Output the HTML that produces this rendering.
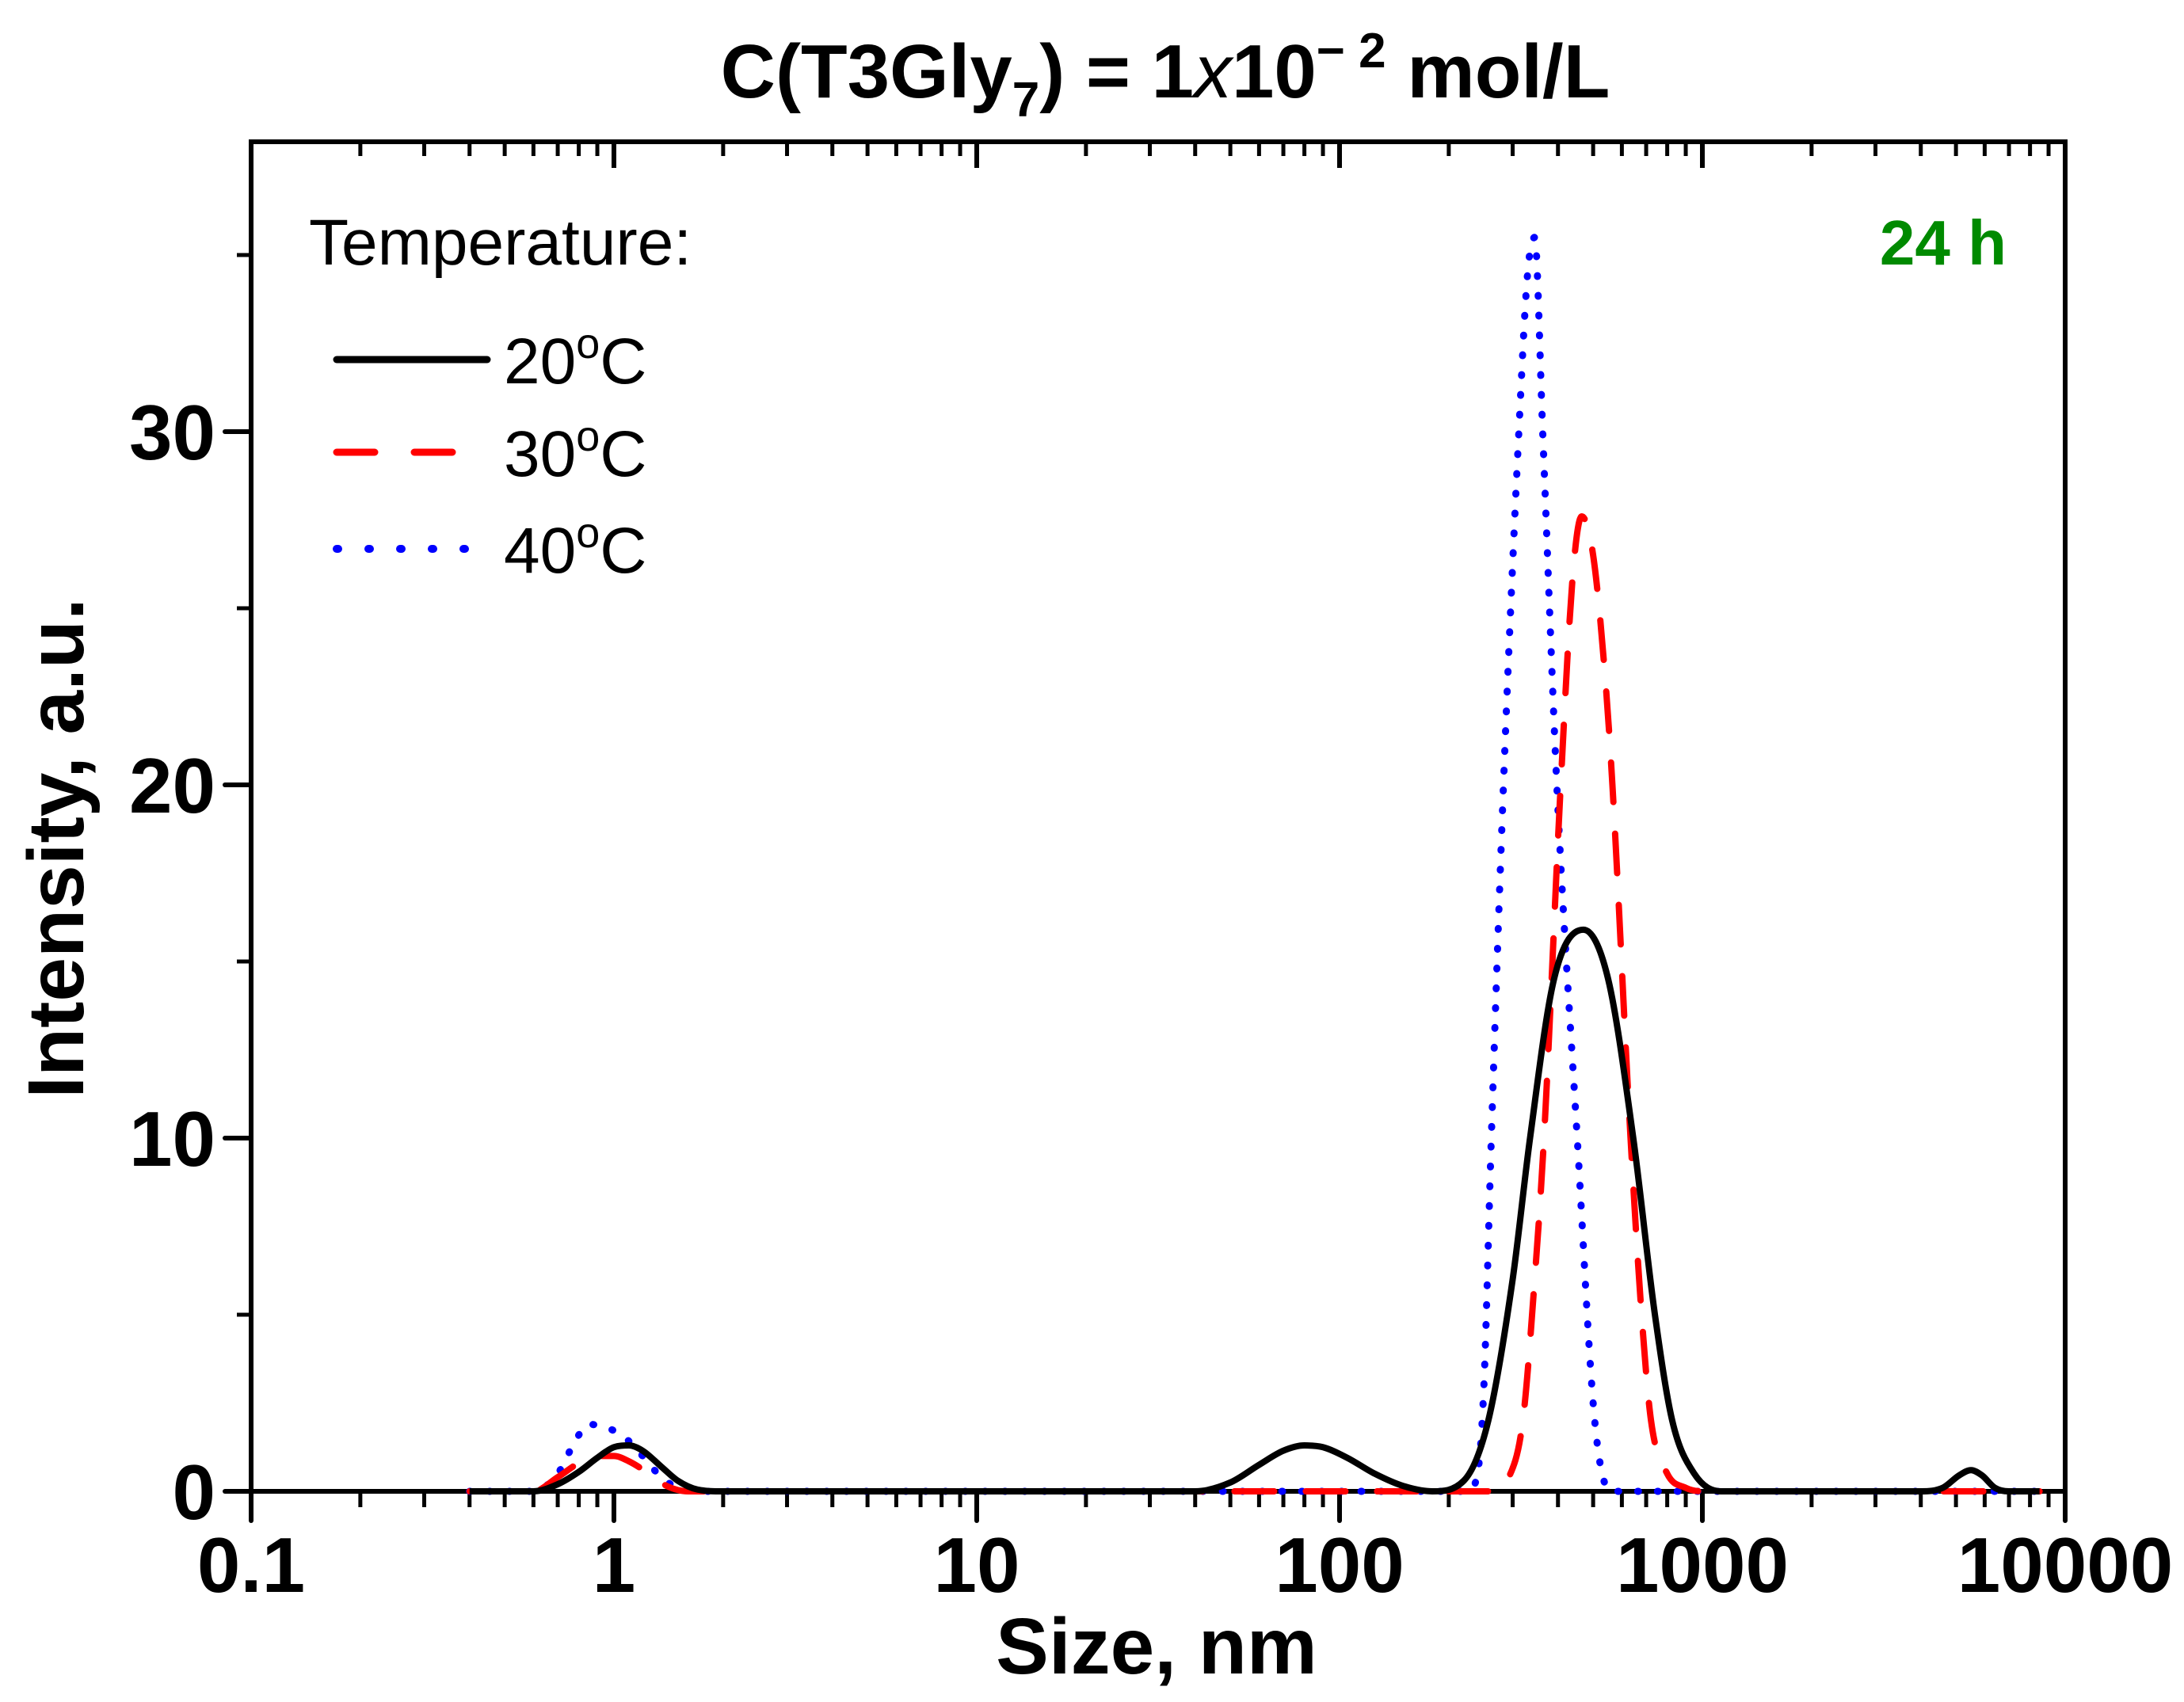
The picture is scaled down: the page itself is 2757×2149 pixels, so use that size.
<!DOCTYPE html>
<html><head><meta charset="utf-8"><style>
html,body{margin:0;padding:0;background:#fff;}
svg{display:block;font-family:"Liberation Sans",Arial,sans-serif;}
</style></head><body>
<svg id="chart" width="2757" height="2149" viewBox="0 0 2757 2149"></svg>
<script>
const xTicks=[0.1,1,10,100,1000,10000];
const xTickLabels=["0.1","1","10","100","1000","10000"];
const yTicks=[0,10,20,30];
const yTickLabels=["0","10","20","30"];
const seriesNames=["20°C","30°C","40°C"];
const s20x=[0.4,0.6,0.7,0.8,0.9,1.0,1.1,1.2,1.35,1.5,1.7,2,40,50,60,70,80,90,105,125,150,180,220,257,300,335,390,470,550,645,740,826,950,1125,4000,4600,5100,5500,5900,6400,7000,8500];
const s20y=[0,0,0.2,0.55,0.95,1.25,1.3,1.15,0.7,0.3,0.05,0,0,0.25,0.75,1.15,1.3,1.25,0.95,0.5,0.15,0,0.3,2,6,10,14.5,15.9,14.5,10,5,2,0.5,0,0,0.1,0.45,0.6,0.45,0.1,0,0];
const s30x=[0.4,0.6,0.7,0.8,0.9,1.0,1.1,1.25,1.4,1.6,270,290,320,345,366,407,440,465,500,540,565,634,680,722,800,900,1000,8500];
const s30y=[0,0,0.4,0.8,1.0,1.0,0.85,0.5,0.15,0,0,0.3,2,6,10,20,26,27.6,26.5,23,20,10,5,2,0.5,0.1,0,0];
const s40x=[0.4,0.6,0.7,0.78,0.85,0.95,1.05,1.2,1.35,1.5,1.7,225,240,250,262,283,312,330,345,363,397,452,505,560,8500];
const s40y=[0,0,0.5,1.4,1.9,1.8,1.6,1.0,0.4,0.1,0,0,0.5,3,10,20,30,34.5,35.5,30,20,10,2,0,0];

const NS="http://www.w3.org/2000/svg";
const svg=document.getElementById("chart");
const L=317,R=2607,T=179,B=1883;
const X=v=>L+(Math.log10(v)+1)*(R-L)/5;
const Y=v=>B-v*44.6;
function mk(tag,attrs,parent){const e=document.createElementNS(NS,tag);for(const k in attrs)e.setAttribute(k,attrs[k]);(parent||svg).appendChild(e);return e;}

function pathFor(xs,ys){
  const px=xs.map(X),py=ys.map(Y),n=px.length;
  const d=[],m=[];
  for(let i=0;i<n-1;i++)d.push((py[i+1]-py[i])/(px[i+1]-px[i]));
  m[0]=d[0];m[n-1]=d[n-2];
  for(let i=1;i<n-1;i++){m[i]=(d[i-1]*d[i]<=0)?0:(d[i-1]+d[i])/2;}
  for(let i=0;i<n-1;i++){if(d[i]===0){m[i]=0;m[i+1]=0;continue;}const a=m[i]/d[i],b=m[i+1]/d[i],s=a*a+b*b;if(s>9){const t=3/Math.sqrt(s);m[i]=t*a*d[i];m[i+1]=t*b*d[i];}}
  let p="M"+px[0]+","+py[0];
  for(let i=0;i<n-1;i++){const h=(px[i+1]-px[i])/3;p+=" C"+(px[i]+h)+","+(py[i]+m[i]*h)+" "+(px[i+1]-h)+","+(py[i+1]-m[i+1]*h)+" "+px[i+1]+","+py[i+1];}
  return p;
}

const frame=mk("rect",{x:L,y:T,width:R-L,height:B-T,fill:"none",stroke:"#000","stroke-width":6});



xTicks.forEach((v,i)=>{
  const x=X(v);
  const t=mk("line",{x1:x,y1:B,x2:x,y2:B+37,stroke:"#000","stroke-width":6,"stroke-linecap":"round"});
  
  
  mk("line",{x1:x,y1:T,x2:x,y2:T+33,stroke:"#000","stroke-width":6});
  const lb=mk("text",{x:x,y:2010,"text-anchor":"middle","font-size":98,"font-weight":"bold"});
  lb.textContent=xTickLabels[i];
  
  
  if(i<xTicks.length-1){for(let k=2;k<=9;k++){const xm=X(v*k);
    mk("line",{x1:xm,y1:B,x2:xm,y2:B+20,stroke:"#000","stroke-width":5});
    mk("line",{x1:xm,y1:T,x2:xm,y2:T+18,stroke:"#000","stroke-width":5});}}
});
for(let v=5;v<=35;v+=10){const y=Y(v);mk("line",{x1:L,y1:y,x2:L-18,y2:y,stroke:"#000","stroke-width":5});}
yTicks.forEach((v,i)=>{
  const y=Y(v);
  const t=mk("line",{x1:L,y1:y,x2:L-33,y2:y,stroke:"#000","stroke-width":6,"stroke-linecap":"round"});
  
  
  const lb=mk("text",{x:272,y:y+35,"text-anchor":"end","font-size":98,"font-weight":"bold"});
  lb.textContent=yTickLabels[i];
  
  
});

const styles=[{c:"#000",w:8,da:null,cap:"butt"},{c:"#ff0000",w:8,da:"50 40",cap:"round"},{c:"#0000ff",w:9,da:"1 24",cap:"round"}];
const data=[[s20x,s20y],[s30x,s30y],[s40x,s40y]];
const names=['series-20c','series-30c','series-40c'];
[2,1,0].forEach(i=>{
  const st=styles[i];
  const p=mk("path",{d:pathFor(data[i][0],data[i][1]),fill:"none",stroke:st.c,"stroke-width":st.w,"stroke-linecap":st.cap,"stroke-linejoin":"round"});
  if(st.da)p.setAttribute("stroke-dasharray",st.da);
  
  
});

const lt=mk("text",{x:390,y:334,"font-size":82});
lt.textContent="Temperature:";


const ly=[454,571,693];
seriesNames.forEach((n,i)=>{
  const st=styles[i];
  const ln=mk("line",{x1:425,y1:ly[i],x2:i==2?590:615,y2:ly[i],stroke:st.c,"stroke-width":st.w+1,"stroke-linecap":"round"});
  if(st.da)ln.setAttribute("stroke-dasharray",i==1?"48 50":"2 38");
  
  
  const tx=mk("text",{x:636,y:ly[i]+30,"font-size":82});
  tx.innerHTML=n.slice(0,2)+'<tspan dy="-32" font-size="54">o</tspan><tspan dy="32">C</tspan>';
  
  
});
</script>
<svg style="position:absolute;left:0;top:0" width="2757" height="2149">
<text x="1471" y="123" text-anchor="middle" font-size="96" font-weight="bold" font-family="Liberation Sans, sans-serif">C(T3Gly<tspan font-size="62" dy="24">7</tspan><tspan dy="-24">) = 1</tspan><tspan font-style="italic" font-weight="normal">x</tspan>10<tspan font-size="62" dy="-38">− 2</tspan><tspan dy="38"> mol/L</tspan></text>
<text x="2533" y="334" text-anchor="end" font-size="80" font-weight="bold" fill="#008a00" font-family="Liberation Sans, sans-serif">24 h</text>
<text x="1460" y="2113" text-anchor="middle" font-size="100" font-weight="bold" font-family="Liberation Sans, sans-serif">Size, nm</text>
<text transform="translate(105,1071) rotate(-90)" text-anchor="middle" font-size="100" font-weight="bold" font-family="Liberation Sans, sans-serif">Intensity, a.u.</text>
</svg>
</body></html>
